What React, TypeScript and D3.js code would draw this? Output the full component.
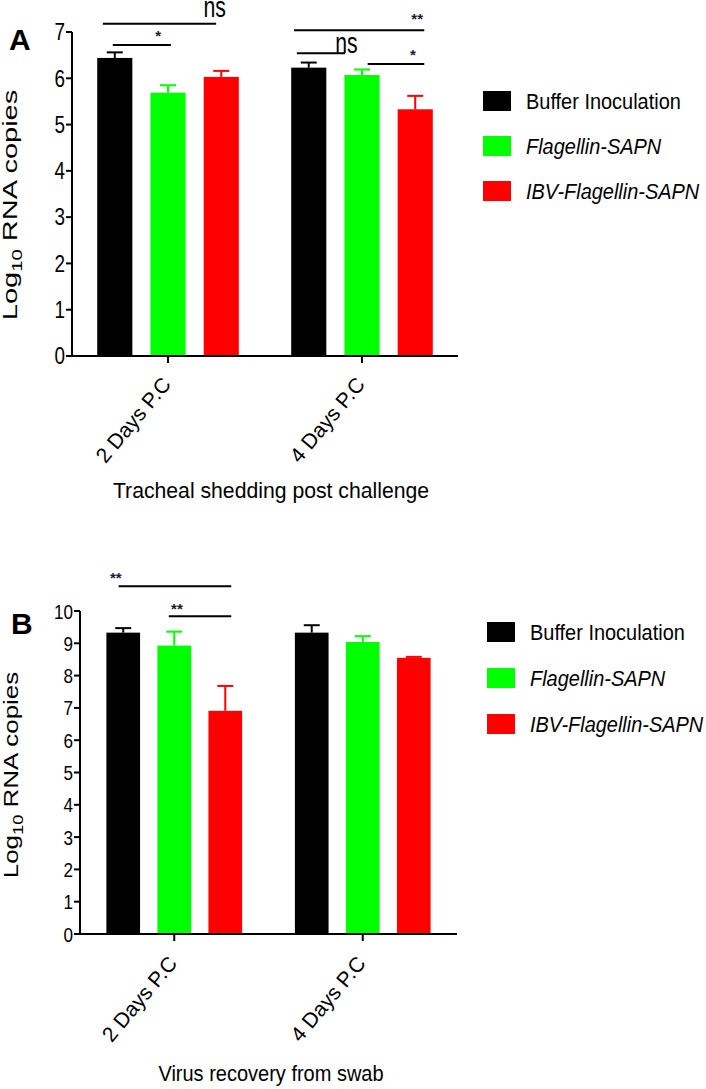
import React from "react";
import * as d3 from "d3";

const groups = ["2 Days P.C", "4 Days P.C"];
const seriesNames = ["Buffer Inoculation", "Flagellin-SAPN", "IBV-Flagellin-SAPN"];
const seriesItalic = [false, true, true];
const colors = ["#000000", "#00ff00", "#ff0000"];

// Panel A: tracheal shedding
const bufferA = [6.44, 6.23];
const flagA = [5.69, 6.07];
const ibvA = [6.03, 5.33];
const bufferAErr = [0.12, 0.11];
const flagAErr = [0.16, 0.12];
const ibvAErr = [0.13, 0.29];
const ticksA = [0, 1, 2, 3, 4, 5, 6, 7];

// Panel B: virus recovery
const bufferB = [9.33, 9.33];
const flagB = [8.93, 9.04];
const ibvB = [6.91, 8.55];
const bufferBErr = [0.14, 0.23];
const flagBErr = [0.43, 0.18];
const ibvBErr = [0.77, 0.03];
const ticksB = [0, 1, 2, 3, 4, 5, 6, 7, 8, 9, 10];

// significance brackets: group, x fractions within group band, y value
const bracketsA = [
  { g: 0, f1: 0.04, f2: 0.84, y: 7.18 },
  { g: 0, f1: 0.11, f2: 0.52, y: 6.72 },
  { g: 1, f1: 0.02, f2: 0.94, y: 7.04 },
  { g: 1, f1: 0.04, f2: 0.38, y: 6.54 },
  { g: 1, f1: 0.54, f2: 0.94, y: 6.31 },
];
const labelsA = [
  { g: 0, f: 0.83, y: 7.33, text: "ns" },
  { g: 0, f: 0.43, y: 7.0, text: "*" },
  { g: 1, f: 0.89, y: 7.36, text: "**" },
  { g: 1, f: 0.39, y: 6.54, text: "ns" },
  { g: 1, f: 0.86, y: 6.59, text: "*" },
];
const bracketsB = [
  { g: 0, f1: 0.09, f2: 0.92, y: 10.77 },
  { g: 0, f1: 0.46, f2: 0.92, y: 9.84 },
];
const labelsB = [
  { g: 0, f: 0.07, y: 11.15, text: "**" },
  { g: 0, f: 0.52, y: 10.19, text: "**" },
];

const FONT = "'Liberation Sans', Arial, sans-serif";

type PanelProps = {
  letter: string;
  letterPos: [number, number];
  values: number[][];
  errors: number[][];
  ticks: number[];
  yMax: number;
  x0: number;
  x1: number;
  y0: number;
  y1: number;
  padIn: number;
  padOut: number;
  tickFont: number;
  brackets: { g: number; f1: number; f2: number; y: number }[];
  labels: { g: number; f: number; y: number; text: string }[];
  yLabelX: number;
  yLabelY: number;
  yLabelStretch: number;
  xTitle: string;
  xTitleY: number;
  xTitleX: number;
  xTitleScale: number;
  xLabelDy: number;
  legendX: number;
  legendY: number;
  legendGap: number;
};

function Panel(p: PanelProps) {
  const y = d3.scaleLinear().domain([0, p.yMax]).range([p.y0, p.y1]);
  const xg = d3.scaleBand<string>().domain(groups).range([p.x0, p.x1]).paddingInner(p.padIn).paddingOuter(p.padOut);
  const xs = d3.scaleBand<number>().domain([0, 1, 2]).range([0, xg.bandwidth()]).paddingInner(0.34).paddingOuter(0);
  const bx = (g: number, f: number) => (xg(groups[g]) as number) + f * xg.bandwidth();
  return (
    <g>
      <text x={p.letterPos[0]} y={p.letterPos[1]} fontFamily={FONT} fontWeight="bold" fontSize={30}>
        {p.letter}
      </text>
      {/* bars */}
      {p.values.map((vals, s) =>
        vals.map((v, g) => {
          const x = (xg(groups[g]) as number) + (xs(s) as number);
          const w = xs.bandwidth();
          const top = y(v);
          const et = y(v + p.errors[s][g]);
          return (
            <g key={`${s}-${g}`}>
              <rect x={x} y={top} width={w} height={p.y0 - top} fill={colors[s]} />
              <line x1={x + w / 2} x2={x + w / 2} y1={top} y2={et} stroke={colors[s]} strokeWidth={2} />
              <line x1={x + w / 2 - 8} x2={x + w / 2 + 8} y1={et} y2={et} stroke={colors[s]} strokeWidth={2} />
            </g>
          );
        })
      )}
      {/* y axis */}
      <line x1={p.x0} x2={p.x0} y1={y(p.yMax)} y2={p.y0 + 1} stroke="#000" strokeWidth={2} />
      {p.ticks.map((t) => (
        <g key={t}>
          <line x1={p.x0 - 6} x2={p.x0} y1={y(t)} y2={y(t)} stroke="#000" strokeWidth={2} />
          <g transform={`translate(${p.x0 - 7},${y(t)}) scale(0.9,1.1)`}>
            <text x={0} y={0} dy="0.36em" textAnchor="end" fontFamily={FONT} fontSize={p.tickFont}>
              {t}
            </text>
          </g>
        </g>
      ))}
      {/* x axis */}
      <line x1={p.x0 - 1} x2={p.x1} y1={p.y0} y2={p.y0} stroke="#000" strokeWidth={2} />
      {groups.map((g) => {
        const cx = (xg(g) as number) + xg.bandwidth() / 2;
        return (
          <g key={g}>
            <line x1={cx} x2={cx} y1={p.y0} y2={p.y0 + 7} stroke="#000" strokeWidth={2} />
            <text
              transform={`translate(${cx + 4},${p.y0 + p.xLabelDy}) rotate(-50)`}
              textAnchor="end"
              fontFamily={FONT}
              fontSize={21}
            >
              {g}
            </text>
          </g>
        );
      })}
      <g transform={`translate(${p.xTitleX},${p.xTitleY}) scale(${p.xTitleScale},1.1)`}>
        <text x={0} y={0} textAnchor="middle" fontFamily={FONT} fontSize={20}>
          {p.xTitle}
        </text>
      </g>
      {/* y label */}
      <g transform={`translate(${p.yLabelX},${p.yLabelY}) rotate(-90) scale(${p.yLabelStretch},1)`}>
        <text x={0} y={0} textAnchor="middle" fontFamily={FONT} fontSize={20}>
          Log<tspan fontSize={14} dy={5}>10</tspan>
          <tspan dy={-5}> RNA copies</tspan>
        </text>
      </g>
      {/* brackets */}
      {p.brackets.map((b, i) => (
        <line key={i} x1={bx(b.g, b.f1)} x2={bx(b.g, b.f2)} y1={y(b.y)} y2={y(b.y)} stroke="#000" strokeWidth={2} />
      ))}
      {p.labels.map((l, i) =>
        l.text === "ns" ? (
          <g key={i} transform={`translate(${bx(l.g, l.f)},${y(l.y)}) scale(0.85,1.15)`}>
            <text x={0} y={0} textAnchor="middle" fontFamily={FONT} fontSize={25}>
              ns
            </text>
          </g>
        ) : (
          <text key={i} x={bx(l.g, l.f)} y={y(l.y) + 9} textAnchor="middle" fontFamily={FONT} fontWeight="bold" fontSize={15} fill="#1a1a3a">
            {l.text}
          </text>
        )
      )}
      {/* legend */}
      {seriesNames.map((n, i) => (
        <g key={n} transform={`translate(${p.legendX},${p.legendY + i * p.legendGap})`}>
          <rect x={0} y={-10} width={28} height={20} fill={colors[i]} />
          <g transform={`translate(43,0) scale(0.95,1.05)`}>
            <text x={0} y={0} dy="0.36em" fontFamily={FONT} fontSize={21} fontStyle={seriesItalic[i] ? "italic" : "normal"}>
              {n}
            </text>
          </g>
        </g>
      ))}
    </g>
  );
}

export default function App() {
  return (
    <svg width={706} height={1089} style={{ position: "absolute", left: 0, top: 0, background: "#fff" }}>
      <rect width={706} height={1089} fill="#fff" />
      <Panel
        letter="A"
        letterPos={[9, 50]}
        values={[bufferA, flagA, ibvA]}
        errors={[bufferAErr, flagAErr, ibvAErr]}
        ticks={ticksA}
        yMax={7}
        x0={72}
        x1={458}
        y0={356}
        y1={32}
        padIn={0.27}
        padOut={0.13}
        tickFont={21}
        brackets={bracketsA}
        labels={labelsA}
        yLabelX={17}
        yLabelY={205}
        yLabelStretch={1.45}
        xTitle="Tracheal shedding post challenge"
        xTitleX={271}
        xTitleY={498}
        xTitleScale={1.06}
        xLabelDy={29}
        legendX={483}
        legendY={101}
        legendGap={45}
      />
      <Panel
        letter="B"
        letterPos={[11, 634]}
        values={[bufferB, flagB, ibvB]}
        errors={[bufferBErr, flagBErr, ibvBErr]}
        ticks={ticksB}
        yMax={10}
        x0={80}
        x1={457}
        y0={934}
        y1={611}
        padIn={0.28}
        padOut={0.14}
        tickFont={19}
        brackets={bracketsB}
        labels={labelsB}
        yLabelX={18}
        yLabelY={775}
        yLabelStretch={1.3}
        xTitle="Virus recovery from swab"
        xTitleX={271}
        xTitleY={1081}
        xTitleScale={1.0}
        xLabelDy={30}
        legendX={487}
        legendY={632}
        legendGap={46}
      />
    </svg>
  );
}
